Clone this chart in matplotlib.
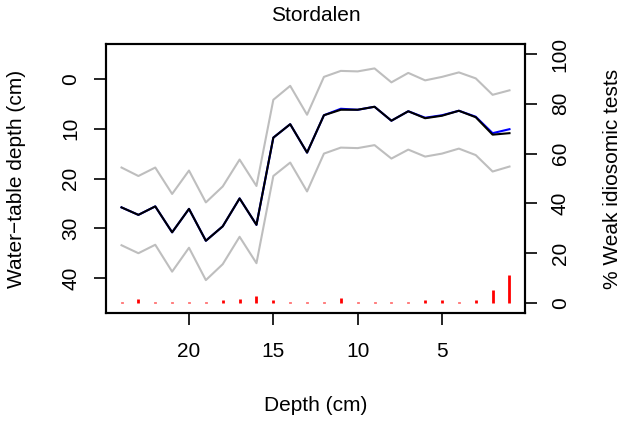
import matplotlib
matplotlib.use("Agg")
import matplotlib.pyplot as plt

plt.rcParams['font.family'] = ['Liberation Sans', 'DejaVu Sans']

depth = list(range(24, 0, -1))
mean_wt = [25.8, 27.3, 25.6, 30.8, 26.1, 32.5, 29.6, 24.0, 29.3, 11.8, 9.1, 14.8,
           7.3, 6.2, 6.2, 5.6, 8.4, 6.5, 7.9, 7.4, 6.4, 7.7, 11.2, 10.9]
mean_wt_alt = [25.8, 27.3, 25.6, 30.8, 26.1, 32.5, 29.6, 24.0, 29.3, 11.8, 9.1, 14.8,
               7.3, 6.0, 6.2, 5.6, 8.4, 6.5, 7.8, 7.3, 6.4, 7.6, 10.9, 10.1]
upper_wt = [17.8, 19.5, 17.8, 23.1, 18.4, 24.8, 21.6, 16.2, 21.5, 4.2, 1.4, 7.2,
            -0.4, -1.6, -1.5, -2.1, 0.7, -1.2, 0.3, -0.4, -1.3, -0.1, 3.2, 2.3]
lower_wt = [33.4, 35.0, 33.3, 38.7, 33.9, 40.4, 37.2, 31.7, 37.0, 19.5, 16.8, 22.6,
            15.0, 13.8, 13.9, 13.3, 16.0, 14.2, 15.6, 15.0, 14.0, 15.3, 18.6, 17.6]
weak_pct = [0.4, 1.6, 0.4, 0.4, 0.4, 0.4, 1.3, 1.6, 2.7, 1.3, 0.4, 0.4,
            0.4, 2.0, 0.4, 0.4, 0.4, 0.4, 1.3, 1.3, 0.4, 1.3, 5.3, 11.4]

left_ticks = [0, 10, 20, 30, 40]
right_ticks = [0, 20, 40, 60, 80, 100]
x_ticks = [20, 15, 10, 5]

W, H = 627, 421
fig = plt.figure(figsize=(W / 100, H / 100), dpi=100)
L, R, T, B = 106, 525, 44, 313
ax = fig.add_axes([L / W, 1 - B / H, (R - L) / W, (B - T) / H])

ax.plot(depth, upper_wt, color='#bebebe', lw=1.5)
ax.plot(depth, lower_wt, color='#bebebe', lw=1.5)
ax.plot(depth, mean_wt_alt, color='blue', lw=1.5)
ax.plot(depth, mean_wt, color='black', lw=1.5)

ax.set_xlim(24.92, 0.08)
ax.set_ylim(47, -7)
ax.set_xticks(x_ticks)
ax.set_yticks(left_ticks)
ax.tick_params(axis='both', direction='out', length=8.6, width=1.2, labelsize=15)
ax.tick_params(axis='x', pad=12)
ax.tick_params(axis='y', pad=10, labelrotation=90)
for lab in ax.get_yticklabels():
    lab.set_va('center')

for sp in ax.spines.values():
    sp.set_linewidth(1.5)

ax2 = ax.twinx()
ax2.vlines(depth, 0, weak_pct, color='red', lw=2)
ax2.set_ylim(-4, 104)
ax2.set_yticks(right_ticks)
ax2.tick_params(axis='y', direction='out', length=8.6, width=1.2, labelsize=15,
                pad=10, labelrotation=90)
for lab in ax2.get_yticklabels():
    lab.set_va('center')
for sp in ax2.spines.values():
    sp.set_linewidth(1.5)

ax.set_title('Stordalen', fontsize=15, pad=16.5)
fig.text(316 / W, 1 - 411 / H, 'Depth (cm)', fontsize=15, ha='center', va='baseline')
fig.text(17 / W, 1 - 178.5 / H, 'Water\u2212table depth (cm)', fontsize=15,
         rotation=90, ha='center', va='center')
fig.text(613 / W, 1 - 178.5 / H, '% Weak idiosomic tests', fontsize=15,
         rotation=90, ha='center', va='center')

fig.savefig('out.png', dpi=100)
